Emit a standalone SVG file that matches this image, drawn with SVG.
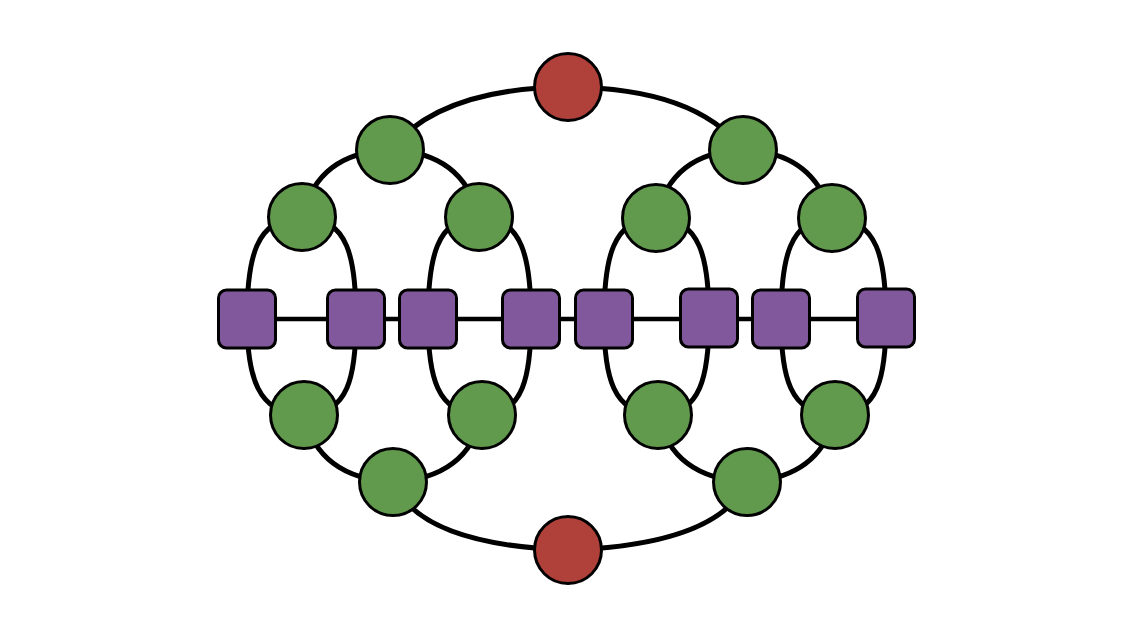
<svg xmlns="http://www.w3.org/2000/svg" width="1134" height="638" viewBox="0 0 1134 638">
<style>
.e{fill:none;stroke:#000;stroke-width:5;stroke-linecap:round}
.h{fill:none;stroke:#000;stroke-width:4.5}
.g{fill:#619a4d;stroke:#000;stroke-width:3}
.r{fill:#b0403a;stroke:#000;stroke-width:3}
.p{fill:#80589b;stroke:#000;stroke-width:3}
</style>
<rect width="1134" height="638" fill="#fff"/>
<g id="connectors">
<path class="h" d="M247,319 H886"/>
<path class="e" d="M568,87 Q440,88 390,150"/>
<path class="e" d="M568,87 Q696,88 743,150"/>
<path class="e" d="M390,150 Q318,152 302,217"/>
<path class="e" d="M390,150 Q463,152 479,217"/>
<path class="e" d="M743,150 Q671,152 656,218"/>
<path class="e" d="M743,150 Q815,152 832,218"/>
<path class="e" d="M302,217 C255,217 247,260 247,319"/>
<path class="e" d="M302,217 C349,217 356,260 356,319"/>
<path class="e" d="M479,217 C436,217 428,260 428,319"/>
<path class="e" d="M479,217 C523,217 531,260 531,319"/>
<path class="e" d="M656,218 C612,218 604,260 604,319"/>
<path class="e" d="M656,218 C701,218 709,260 709,319"/>
<path class="e" d="M832,218 C789,218 781,260 781,319"/>
<path class="e" d="M832,218 C878,218 886,260 886,319"/>
<path class="e" d="M304,415 C257,415 247,375 247,319"/>
<path class="e" d="M304,415 C349,415 356,375 356,319"/>
<path class="e" d="M482,415 C436,415 428,375 428,319"/>
<path class="e" d="M482,415 C524,415 531,375 531,319"/>
<path class="e" d="M658,415 C612,415 604,375 604,319"/>
<path class="e" d="M658,415 C701,415 709,375 709,319"/>
<path class="e" d="M835,415 C789,415 781,375 781,319"/>
<path class="e" d="M835,415 C879,415 886,375 886,319"/>
<path class="e" d="M304,415 Q318,478 393,482"/>
<path class="e" d="M482,415 Q468,478 393,482"/>
<path class="e" d="M658,415 Q672,478 747,482"/>
<path class="e" d="M835,415 Q821,478 747,482"/>
<path class="e" d="M393,482 Q420,545 568,550"/>
<path class="e" d="M747,482 Q718,545 568,550"/>
</g>
<g id="red-top"><circle class="r" cx="568" cy="87" r="33.5"/></g>
<g id="red-bottom"><circle class="r" cx="568" cy="550" r="33.5"/></g>
<g id="g-l1-left"><circle class="g" cx="390" cy="150" r="33.5"/></g>
<g id="g-l1-right"><circle class="g" cx="743" cy="150" r="33.5"/></g>
<g id="g-l2-a"><circle class="g" cx="302" cy="217" r="33.5"/></g>
<g id="g-l2-b"><circle class="g" cx="479" cy="217" r="33.5"/></g>
<g id="g-l2-c"><circle class="g" cx="656" cy="218" r="33.5"/></g>
<g id="g-l2-d"><circle class="g" cx="832" cy="218" r="33.5"/></g>
<g id="g-lo-a"><circle class="g" cx="304" cy="415" r="33.5"/></g>
<g id="g-lo-b"><circle class="g" cx="482" cy="415" r="33.5"/></g>
<g id="g-lo-c"><circle class="g" cx="658" cy="415" r="33.5"/></g>
<g id="g-lo-d"><circle class="g" cx="835" cy="415" r="33.5"/></g>
<g id="g-bot-left"><circle class="g" cx="393" cy="482" r="33.5"/></g>
<g id="g-bot-right"><circle class="g" cx="747" cy="482" r="33.5"/></g>
<g id="sq1"><rect class="p" x="218.5" y="290" width="57" height="58" rx="8"/></g>
<g id="sq2"><rect class="p" x="327.5" y="290" width="57" height="58" rx="8"/></g>
<g id="sq3"><rect class="p" x="399.5" y="290" width="57" height="58" rx="8"/></g>
<g id="sq4"><rect class="p" x="502.5" y="290" width="57" height="58" rx="8"/></g>
<g id="sq5"><rect class="p" x="575.5" y="290" width="57" height="58" rx="8"/></g>
<g id="sq6"><rect class="p" x="680.5" y="289" width="57" height="58" rx="8"/></g>
<g id="sq7"><rect class="p" x="752.5" y="290" width="57" height="58" rx="8"/></g>
<g id="sq8"><rect class="p" x="857.5" y="289" width="57" height="58" rx="8"/></g>
</svg>
